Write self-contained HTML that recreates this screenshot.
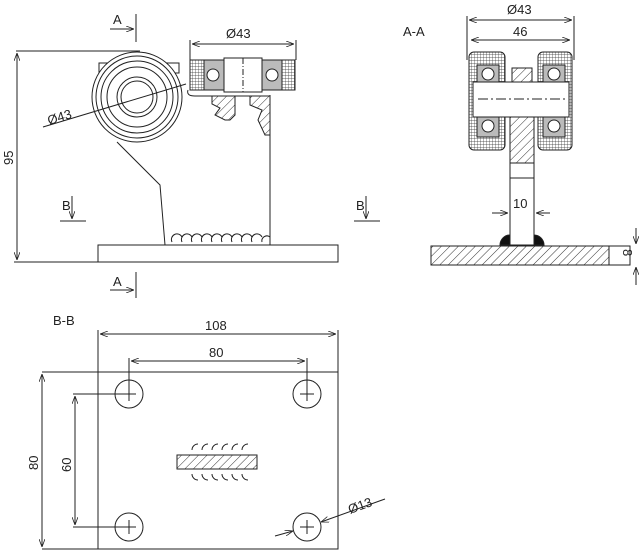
<!DOCTYPE html>
<html><head><style>body{margin:0;background:#fff}svg{display:block}text{font-family:"Liberation Sans",sans-serif;font-size:13px;fill:#222}</style></head><body>
<svg width="640" height="553" viewBox="0 0 640 553" xmlns="http://www.w3.org/2000/svg">
<defs>
<pattern id="h" width="6" height="6" patternUnits="userSpaceOnUse" patternTransform="rotate(45)"><line x1="0" y1="0" x2="0" y2="6" stroke="#333" stroke-width="1"/></pattern>
<pattern id="g" width="3" height="3" patternUnits="userSpaceOnUse"><path d="M0 0H3M0 0V3" stroke="#333" stroke-width="0.7"/></pattern>
<marker id="a" markerWidth="8" markerHeight="6" refX="8" refY="3" orient="auto-start-reverse"><path d="M0 0L8 3L0 6" fill="none" stroke="#222" stroke-width="0.8"/></marker>
</defs>
<g fill="none" stroke="#222" stroke-width="1">
<!-- side view -->
<rect x="98" y="245" width="240" height="17"/>
<line x1="16" y1="51" x2="140" y2="51"/><line x1="14" y1="262" x2="98" y2="262"/>
<line x1="17" y1="53" x2="17" y2="260" marker-start="url(#a)" marker-end="url(#a)"/>
<rect x="99" y="63" width="80" height="10"/>
<circle cx="137" cy="97" r="45" fill="#fff"/><circle cx="137" cy="97" r="41"/><circle cx="137" cy="97" r="36"/><circle cx="137" cy="97" r="30"/><circle cx="137" cy="97" r="20"/><circle cx="137" cy="97" r="16"/>
<path d="M117 142L160 185L165 245M270 95V245"/>
<path d="M188 90Q186 96 195 96H270"/>
<path d="M172 242a5 5 0 0 1 10 -5M182 242a5 5 0 0 1 10 -5M192 242a5 5 0 0 1 10 -5M202 242a5 5 0 0 1 10 -5M212 242a5 5 0 0 1 10 -5M222 242a5 5 0 0 1 10 -5M232 242a5 5 0 0 1 10 -5M242 242a5 5 0 0 1 10 -5M252 242a5 5 0 0 1 10 -5M262 242a5 5 0 0 1 8 -5"/>
<rect x="190" y="60" width="105" height="30" fill="url(#g)"/>
<rect x="204" y="60" width="20" height="30" fill="#bbb"/><rect x="262" y="60" width="20" height="30" fill="#bbb"/>
<circle cx="213" cy="75" r="6" fill="#fff"/><circle cx="272" cy="75" r="6" fill="#fff"/>
<rect x="224" y="58" width="38" height="34" fill="#fff"/><line x1="243" y1="58" x2="243" y2="92" stroke-dasharray="6 2 1 2"/>
<path d="M212 96H235V115L230 120H225L215 115L220 108L212 104Z" fill="url(#h)"/>
<path d="M250 96H270V135H265L258 120L262 110L250 105Z" fill="url(#h)"/>
<line x1="190" y1="40" x2="190" y2="60"/><line x1="296" y1="40" x2="296" y2="60"/>
<line x1="192" y1="44" x2="294" y2="44" marker-start="url(#a)" marker-end="url(#a)"/>
<line x1="43" y1="127" x2="186" y2="84"/>
<line x1="136" y1="14" x2="136" y2="42"/><line x1="110" y1="29" x2="134" y2="29" marker-end="url(#a)"/>
<line x1="136" y1="272" x2="136" y2="298"/><line x1="110" y1="290" x2="134" y2="290" marker-end="url(#a)"/>
<line x1="72" y1="196" x2="72" y2="219" marker-end="url(#a)"/><line x1="60" y1="221" x2="86" y2="221"/>
<line x1="366" y1="196" x2="366" y2="219" marker-end="url(#a)"/><line x1="354" y1="221" x2="380" y2="221"/>
<!-- A-A -->
<line x1="467" y1="16" x2="467" y2="60"/><line x1="574" y1="16" x2="574" y2="60"/>
<line x1="469" y1="20" x2="572" y2="20" marker-start="url(#a)" marker-end="url(#a)"/>
<line x1="471" y1="40" x2="570" y2="40" marker-start="url(#a)" marker-end="url(#a)"/>
<rect x="469" y="52" width="36" height="98" rx="5" fill="url(#g)"/><rect x="538" y="52" width="34" height="98" rx="5" fill="url(#g)"/>
<rect x="477" y="65" width="22" height="72" fill="#bbb"/><rect x="543" y="65" width="22" height="72" fill="#bbb"/>
<circle cx="488" cy="74" r="6" fill="#fff"/><circle cx="554" cy="74" r="6" fill="#fff"/><circle cx="488" cy="126" r="6" fill="#fff"/><circle cx="554" cy="126" r="6" fill="#fff"/>
<rect x="512" y="68" width="20" height="14" fill="url(#h)"/>
<rect x="473" y="82" width="96" height="35" fill="#fff"/>
<line x1="478" y1="99" x2="566" y2="99" stroke-dasharray="10 3 2 3"/>
<rect x="510" y="117" width="24" height="128"/><rect x="510" y="117" width="24" height="46" fill="url(#h)"/><line x1="510" y1="178" x2="534" y2="178"/>
<path d="M500 245a10 10 0 0 1 10 -10V245Z M534 235a10 10 0 0 1 10 10H534Z" fill="#111"/>
<rect x="431" y="246" width="178" height="19" fill="url(#h)"/><rect x="609" y="246" width="21" height="19"/>
<line x1="492" y1="213" x2="508" y2="213" marker-end="url(#a)"/><line x1="550" y1="213" x2="536" y2="213" marker-end="url(#a)"/>
<line x1="636" y1="228" x2="636" y2="244" marker-end="url(#a)"/><line x1="636" y1="285" x2="636" y2="267" marker-end="url(#a)"/>
<!-- B-B -->
<rect x="98" y="372" width="240" height="177"/>
<line x1="98" y1="330" x2="98" y2="372"/><line x1="338" y1="330" x2="338" y2="372"/>
<line x1="42" y1="372" x2="98" y2="372"/><line x1="42" y1="549" x2="98" y2="549"/>
<line x1="100" y1="334" x2="336" y2="334" marker-start="url(#a)" marker-end="url(#a)"/>
<line x1="129" y1="358" x2="129" y2="394"/><line x1="307" y1="358" x2="307" y2="394"/>
<line x1="131" y1="361" x2="305" y2="361" marker-start="url(#a)" marker-end="url(#a)"/>
<line x1="42" y1="374" x2="42" y2="547" marker-start="url(#a)" marker-end="url(#a)"/>
<line x1="73" y1="394" x2="129" y2="394"/><line x1="73" y1="527" x2="129" y2="527"/>
<line x1="75" y1="396" x2="75" y2="525" marker-start="url(#a)" marker-end="url(#a)"/>
<circle cx="129" cy="394" r="14"/><circle cx="307" cy="394" r="14"/><circle cx="129" cy="527" r="14"/><circle cx="307" cy="527" r="14"/>
<path d="M122 394h14M129 387v14M300 394h14M307 387v14M122 527h14M129 520v14M300 527h14M307 520v14"/>
<rect x="177" y="455" width="80" height="14" fill="url(#h)"/>
<path d="M192 450a6 6 0 0 1 6 -6M202 450a6 6 0 0 1 6 -6M212 450a6 6 0 0 1 6 -6M222 450a6 6 0 0 1 6 -6M232 450a6 6 0 0 1 6 -6M242 450a6 6 0 0 1 6 -6M192 474a6 6 0 0 0 6 6M202 474a6 6 0 0 0 6 6M212 474a6 6 0 0 0 6 6M222 474a6 6 0 0 0 6 6M232 474a6 6 0 0 0 6 6M242 474a6 6 0 0 0 6 6"/>
<line x1="275" y1="536" x2="293" y2="531" marker-end="url(#a)"/><line x1="385" y1="499" x2="321" y2="522" marker-end="url(#a)"/>
</g>
<text x="113" y="24">A</text><text x="113" y="286">A</text>
<text x="62" y="210">B</text><text x="356" y="210">B</text>
<text x="226" y="38">Ø43</text>
<text transform="translate(49,125) rotate(-17)">Ø43</text>
<text transform="translate(13,165) rotate(-90)">95</text>
<text x="403" y="36">A-A</text>
<text x="507" y="14">Ø43</text><text x="513" y="36">46</text><text x="513" y="208">10</text>
<text transform="translate(623,249) rotate(90)">8</text>
<text x="53" y="325">B-B</text>
<text x="205" y="330">108</text><text x="209" y="357">80</text>
<text transform="translate(38,470) rotate(-90)">80</text>
<text transform="translate(71,472) rotate(-90)">60</text>
<text transform="translate(350,514) rotate(-20)">Ø13</text>
</svg>
</body></html>
